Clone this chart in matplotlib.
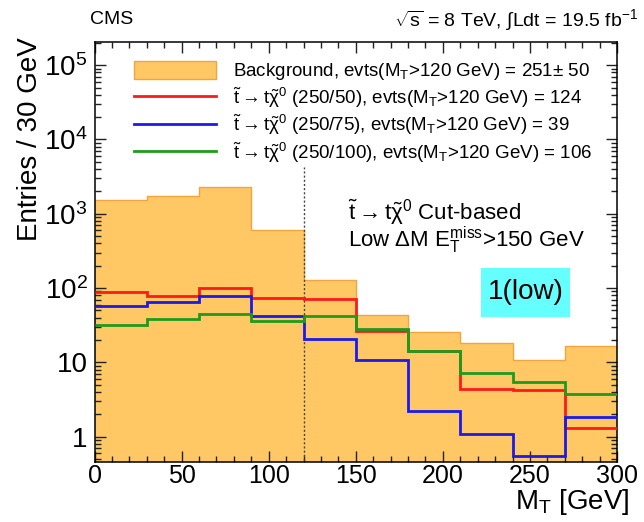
import numpy as np
import matplotlib.pyplot as plt
from matplotlib.lines import Line2D
from matplotlib.patches import Patch, Rectangle
from matplotlib.ticker import MultipleLocator, FixedLocator, FixedFormatter, LogLocator, NullFormatter

plt.rcParams['font.family'] = ['Liberation Sans', 'DejaVu Sans']
plt.rcParams['mathtext.fontset'] = 'custom'
plt.rcParams['mathtext.rm'] = 'Liberation Sans'
plt.rcParams['mathtext.it'] = 'Liberation Sans:italic'
plt.rcParams['mathtext.default'] = 'regular'

# M_T binning, 30 GeV per bin
mt_edges = np.arange(0, 301, 30)

# entries per bin
background = [1535, 1740, 2275, 605, 128, 43, 26, 18, 10.8, 16.8]
sig_250_50 = [88.6, 79, 100, 73.6, 72, 26.5, 14.4, 4.4, 4.2, 1.31]
sig_250_75 = [58, 64, 77, 41.6, 20.5, 10.8, 2.2, 1.09, 0.55, 1.84]
sig_250_100 = [32, 38, 45, 35.6, 42, 28.5, 14.4, 7.3, 5.5, 3.8]

mt_cut = 120

leg_labels = [
    r'Background, evts(M$_T$>120 GeV) = 251$\pm$ 50',
    r'$\tilde{t}\rightarrow t\tilde{\chi}^0$ (250/50), evts(M$_T$>120 GeV) = 124',
    r'$\tilde{t}\rightarrow t\tilde{\chi}^0$ (250/75), evts(M$_T$>120 GeV) = 39',
    r'$\tilde{t}\rightarrow t\tilde{\chi}^0$ (250/100), evts(M$_T$>120 GeV) = 106',
]

fig = plt.figure(figsize=(6.44, 5.22), dpi=100)
ax = fig.add_axes([94.5 / 644, 1 - 461.7 / 522, 522.5 / 644, 420 / 522])

bg_fill = '#FFC865'
bg_edge = '#F2A53C'
ax.stairs(background, mt_edges, fill=True, color=bg_fill, baseline=1e-3, zorder=1)
ax.stairs(background, mt_edges, color=bg_edge, lw=1, baseline=None, zorder=1.5)

ax.vlines(mt_cut, 1e-3, 4200, colors='#444444', linestyles=(0, (1.5, 1.5)), lw=1, zorder=2)

ax.stairs(sig_250_50, mt_edges, color='#FF1A1A', lw=2, baseline=None, zorder=3)
ax.stairs(sig_250_75, mt_edges, color='#1A1AEE', lw=2, baseline=None, zorder=3)
ax.stairs(sig_250_100, mt_edges, color='#1E9A1E', lw=2, baseline=None, zorder=3)

ax.set_yscale('log')
ax.set_xlim(0, 300)
ax.set_ylim(0.46, 2.07e5)

# ticks inside on all four sides
ax.xaxis.set_major_locator(MultipleLocator(50))
ax.xaxis.set_minor_locator(MultipleLocator(10))
ax.yaxis.set_major_locator(FixedLocator([1, 10, 100, 1e3, 1e4, 1e5]))
ax.yaxis.set_major_formatter(FixedFormatter(['1', '10', '$10^2$', '$10^3$', '$10^4$', '$10^5$']))
ax.yaxis.set_minor_locator(LogLocator(base=10, subs=np.arange(2, 10), numticks=20))
ax.yaxis.set_minor_formatter(NullFormatter())
ax.tick_params(which='both', direction='in', top=True, right=True, width=1, color='#222222')
ax.tick_params(which='major', length=8)
ax.tick_params(which='minor', length=4)
ax.tick_params(axis='y', which='major', labelsize=20, pad=5)
ax.tick_params(axis='x', which='major', labelsize=18, pad=2)
for s in ax.spines.values():
    s.set_linewidth(1.1)

handles = [
    Patch(facecolor=bg_fill, edgecolor=bg_edge, lw=1),
    Line2D([], [], color='#FF1A1A', lw=2),
    Line2D([], [], color='#1A1AEE', lw=2),
    Line2D([], [], color='#1E9A1E', lw=2),
]
ax.legend(handles, leg_labels, loc='upper left', bbox_to_anchor=(0.075, 0.955),
          frameon=False, fontsize=13.5, handlelength=4.4, handleheight=1.1,
          handletextpad=0.9, labelspacing=0.17, borderpad=0, borderaxespad=0)

ax.text(0.485, 0.595, r'$\tilde{t}\rightarrow t\tilde{\chi}^0$ Cut-based',
        transform=ax.transAxes, fontsize=16, va='center', ha='left')
ax.text(0.485, 0.528, r'Low $\Delta$M E$_T^{miss}$>150 GeV',
        transform=ax.transAxes, fontsize=16, va='center', ha='left')

# region tag
ax.add_patch(Rectangle((0.740, 0.3445), 0.170, 0.1165, transform=ax.transAxes,
                       facecolor='#66FFFF', edgecolor='none', zorder=4))
ax.text(0.825, 0.403, '1(low)', transform=ax.transAxes, fontsize=20,
        ha='center', va='center', zorder=5)

fig.text(90 / 644, 1 - 20 / 522, 'CMS', fontsize=14, ha='left', va='center')
fig.text(638 / 644, 1 - 20 / 522, r'$\sqrt{s}$ = 8 TeV, $\int$Ldt = 19.5 fb$^{-1}$',
         fontsize=14, ha='right', va='center')
fig.text(30 / 644, 1 - 37 / 522, 'Entries / 30 GeV', fontsize=20, rotation=90,
         ha='center', va='top')
fig.text(630 / 644, 1 - 502 / 522, 'M$_T$ [GeV]', fontsize=20, ha='right', va='center')

fig.savefig('out.png', dpi=100)
